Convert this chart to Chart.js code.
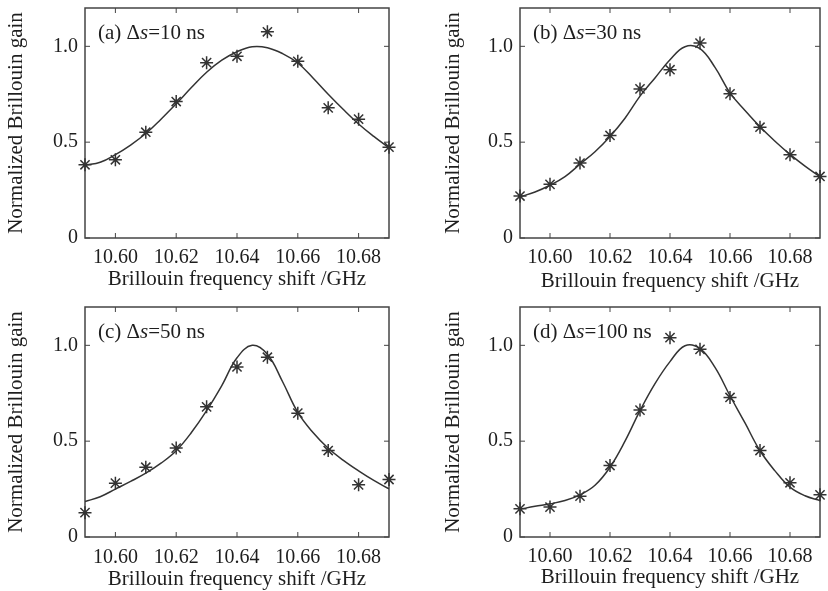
<!DOCTYPE html>
<html>
<head>
<meta charset="utf-8">
<script src="https://cdn.jsdelivr.net/npm/chart.js@4.4.0/dist/chart.umd.min.js"></script>
<style>
  body { margin: 0; background: #fff; }
  #wrap { position: relative; width: 828px; height: 591px; overflow: hidden; background: #fff; }
  .panel { position: absolute; }
</style>
</head>
<body>
<div id="wrap">
  <div class="panel" style="left:0;top:0"><canvas id="chartA" width="414" height="295"></canvas></div>
  <div class="panel" style="left:414px;top:0"><canvas id="chartB" width="414" height="295"></canvas></div>
  <div class="panel" style="left:0;top:295px"><canvas id="chartC" width="414" height="296"></canvas></div>
  <div class="panel" style="left:414px;top:295px"><canvas id="chartD" width="414" height="296"></canvas></div>
</div>
<script>
// measured points (GHz, normalized gain)
const freqs = [10.59, 10.60, 10.61, 10.62, 10.63, 10.64, 10.65, 10.66, 10.67, 10.68, 10.69];
const measA = [0.382, 0.408, 0.552, 0.712, 0.915, 0.948, 1.076, 0.922, 0.679, 0.620, 0.474];
const measB = [0.219, 0.280, 0.391, 0.535, 0.778, 0.878, 1.017, 0.752, 0.578, 0.434, 0.321];
const measC = [0.127, 0.281, 0.364, 0.464, 0.679, 0.887, 0.938, 0.646, 0.451, 0.272, 0.300];
const measD = [0.147, 0.156, 0.213, 0.373, 0.662, 1.040, 0.979, 0.728, 0.451, 0.283, 0.220];

// fitted curves
const fitFreqs = [10.590, 10.595, 10.600, 10.605, 10.610, 10.615, 10.620, 10.625, 10.630, 10.635, 10.640,
                  10.645, 10.650, 10.655, 10.660, 10.665, 10.670, 10.675, 10.680, 10.685, 10.690];
const fitA = [0.38, 0.395, 0.435, 0.485, 0.545, 0.62, 0.70, 0.785, 0.865, 0.928, 0.972,
              0.998, 0.993, 0.962, 0.913, 0.835, 0.75, 0.67, 0.595, 0.53, 0.47];
const fitB = [0.215, 0.24, 0.275, 0.32, 0.385, 0.45, 0.53, 0.625, 0.74, 0.835, 0.93,
              0.998, 0.988, 0.89, 0.757, 0.665, 0.58, 0.505, 0.436, 0.375, 0.32];
const fitC = [0.185, 0.21, 0.25, 0.29, 0.333, 0.385, 0.45, 0.545, 0.659, 0.79, 0.935,
              1.0, 0.953, 0.81, 0.65, 0.545, 0.463, 0.40, 0.345, 0.295, 0.251];
const fitD = [0.145, 0.16, 0.173, 0.19, 0.22, 0.27, 0.364, 0.5, 0.659, 0.80, 0.915,
              0.998, 0.983, 0.885, 0.737, 0.595, 0.45, 0.345, 0.26, 0.215, 0.19];

const xTicks = [10.60, 10.62, 10.64, 10.66, 10.68];
const yTicks = [0, 0.5, 1.0];
const tags = ['(a)', '(b)', '(c)', '(d)'];
const spacings = ['10', '30', '50', '100'];

const FONT = '"Liberation Serif", "Times New Roman", serif';
const INK = '#1e1e1e';

// frame with inward ticks on all four sides, plus the panel label
const framePlugin = {
  id: 'frame',
  beforeDatasetsDraw(chart) {
    const {ctx, chartArea: a, scales: {x, y}} = chart;
    ctx.save();
    ctx.strokeStyle = '#444';
    ctx.lineWidth = 1.5;
    ctx.strokeRect(a.left, a.top, a.right - a.left, a.bottom - a.top);
    ctx.lineWidth = 1;
    ctx.beginPath();
    xTicks.forEach(v => {
      const px = x.getPixelForValue(v);
      ctx.moveTo(px, a.bottom); ctx.lineTo(px, a.bottom - 5);
      ctx.moveTo(px, a.top); ctx.lineTo(px, a.top + 5);
    });
    yTicks.forEach(v => {
      const py = y.getPixelForValue(v);
      ctx.moveTo(a.left, py); ctx.lineTo(a.left + 5, py);
      ctx.moveTo(a.right, py); ctx.lineTo(a.right - 5, py);
    });
    ctx.stroke();
    ctx.restore();
  },
  afterDraw(chart, args, opts) {
    const {ctx, chartArea: a} = chart;
    ctx.save();
    ctx.fillStyle = INK;
    ctx.textAlign = 'left';
    ctx.textBaseline = 'alphabetic';
    let tx = a.left + 13;
    const ty = a.top + 31;
    const parts = [[opts.tag + ' \u0394', 'normal'], ['s', 'italic'], ['=' + opts.spacing + ' ns', 'normal']];
    parts.forEach(([t, st]) => {
      ctx.font = st + ' 21px ' + FONT;
      ctx.fillText(t, tx, ty);
      tx += ctx.measureText(t).width;
    });
    ctx.restore();
  }
};

const panels = [
  {id: 'chartA', meas: measA, fit: fitA, padTop: 7,  padRight: 25, yw: 85,  xh: 57, ytPad: 4,  xtPad: 3,  tickPad: 8},
  {id: 'chartB', meas: measB, fit: fitB, padTop: 8,  padRight: 1,  yw: 106, xh: 57, ytPad: 27, xtPad: 1,  tickPad: 8},
  {id: 'chartC', meas: measC, fit: fitC, padTop: 12, padRight: 25, yw: 85,  xh: 54, ytPad: 4,  xtPad: -1, tickPad: 9},
  {id: 'chartD', meas: measD, fit: fitD, padTop: 12, padRight: 1,  yw: 106, xh: 54, ytPad: 27, xtPad: 1,  tickPad: 8}
];

panels.forEach((p, i) => {
  new Chart(document.getElementById(p.id), {
    type: 'scatter',
    data: {
      datasets: [{
        data: freqs.map((f, k) => ({x: f, y: p.meas[k]})),
        pointStyle: 'star',
        pointRadius: 6.5,
        pointBorderWidth: 1.5,
        borderColor: '#333',
        backgroundColor: '#333',
        clip: false
      }, {
        data: fitFreqs.map((f, k) => ({x: f, y: p.fit[k]})),
        showLine: true,
        pointRadius: 0,
        borderColor: '#333',
        borderWidth: 1.5,
        tension: 0.4
      }]
    },
    options: {
      responsive: false,
      animation: false,
      layout: {padding: {left: 0, top: p.padTop, right: p.padRight, bottom: 0}},
      plugins: {
        legend: {display: false},
        tooltip: {enabled: false},
        frame: {tag: tags[i], spacing: spacings[i]}
      },
      scales: {
        x: {
          type: 'linear',
          min: 10.59,
          max: 10.69,
          afterBuildTicks: s => { s.ticks = xTicks.map(v => ({value: v})); },
          afterFit: s => { s.height = p.xh; s.paddingLeft = 0; s.paddingRight = 0; },
          grid: {display: false, drawTicks: false},
          border: {display: false},
          ticks: {
            padding: p.tickPad,
            color: INK,
            autoSkip: false,
            maxRotation: 0,
            font: {family: FONT, size: 20},
            callback: v => v.toFixed(2)
          },
          title: {
            display: true,
            text: 'Brillouin frequency shift /GHz',
            color: INK,
            font: {family: FONT, size: 21},
            padding: {top: 0, bottom: p.xtPad}
          }
        },
        y: {
          min: 0,
          max: 1.2,
          afterBuildTicks: s => { s.ticks = yTicks.map(v => ({value: v})); },
          afterFit: s => { s.width = p.yw; s.paddingTop = 0; s.paddingBottom = 0; },
          grid: {display: false, drawTicks: false},
          border: {display: false},
          ticks: {
            padding: 7,
            color: INK,
            font: {family: FONT, size: 20},
            callback: v => (v === 0 ? '0' : v.toFixed(1))
          },
          title: {
            display: true,
            text: 'Normalized Brillouin gain',
            color: INK,
            font: {family: FONT, size: 21},
            padding: {top: p.ytPad, bottom: 0}
          }
        }
      }
    },
    plugins: [framePlugin]
  });
});
</script>
</body>
</html>
